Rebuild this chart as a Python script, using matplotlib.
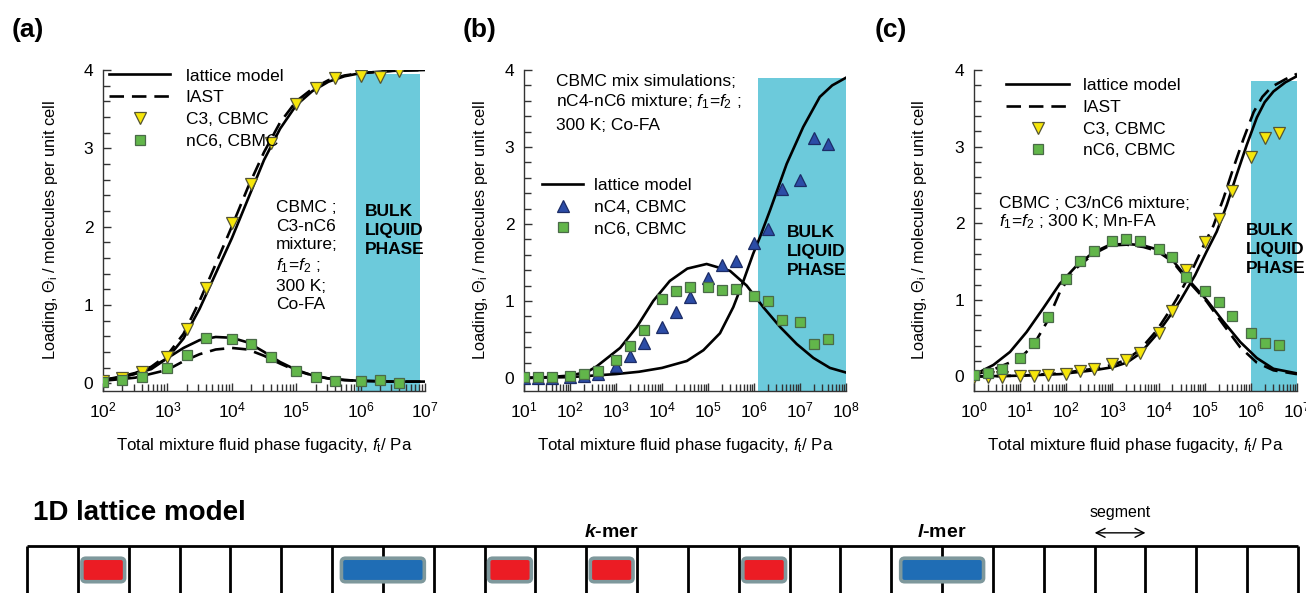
import matplotlib
matplotlib.use("Agg")
import matplotlib.pyplot as plt
import numpy as np
from matplotlib.patches import FancyBboxPatch
from matplotlib.ticker import LogLocator, LogFormatterMathtext, MultipleLocator, NullFormatter

plt.rcParams["font.family"] = ["Liberation Sans", "DejaVu Sans"]
plt.rcParams["mathtext.fontset"] = "custom"
plt.rcParams["mathtext.rm"] = "Liberation Sans"
plt.rcParams["mathtext.it"] = "Liberation Sans:italic"
plt.rcParams["mathtext.bf"] = "Liberation Sans:bold"
plt.rcParams["mathtext.bfit"] = "Liberation Sans:italic:bold"

W, H = 1306, 593

# ---- (a) C3/nC6 in Co-FA ----
a_f_cbmc = [1e2, 2e2, 4e2, 1e3, 2e3, 4e3, 1e4, 2e4, 4e4, 1e5, 2e5, 4e5, 1e6, 2e6, 4e6]
a_c3_cbmc = [0.03, 0.06, 0.14, 0.33, 0.69, 1.22, 2.04, 2.54, 3.07, 3.56, 3.77, 3.90, 3.92, 3.91, 3.99]
a_nc6_cbmc = [0.02, 0.04, 0.08, 0.20, 0.36, 0.58, 0.57, 0.50, 0.33, 0.16, 0.08, 0.03, 0.03, 0.04, 0.00]

a_logf = [2.0, 2.25, 2.5, 2.75, 3.0, 3.25, 3.5, 3.75, 4.0, 4.25, 4.5, 4.75, 5.0, 5.25, 5.5, 5.75, 6.0, 6.5, 7.0]
a_c3_lattice = [0.04, 0.07, 0.12, 0.18, 0.32, 0.57, 0.95, 1.40, 1.85, 2.35, 2.85, 3.25, 3.55, 3.73, 3.85, 3.92, 3.96, 3.99, 4.00]
a_c3_iast = [0.04, 0.08, 0.13, 0.21, 0.36, 0.63, 1.05, 1.52, 2.00, 2.50, 2.95, 3.33, 3.60, 3.76, 3.87, 3.93, 3.96, 3.99, 4.00]
a_nc6_lattice = [0.04, 0.07, 0.12, 0.20, 0.32, 0.45, 0.55, 0.59, 0.58, 0.52, 0.40, 0.27, 0.17, 0.10, 0.06, 0.04, 0.03, 0.02, 0.02]
a_nc6_iast = [0.03, 0.05, 0.07, 0.12, 0.17, 0.28, 0.37, 0.43, 0.45, 0.43, 0.35, 0.25, 0.16, 0.10, 0.06, 0.04, 0.03, 0.02, 0.02]
a_liquid = [8.5e5, 8.5e6, 3.95]

# ---- (b) nC4/nC6 in Co-FA ----
b_f_cbmc = [1e1, 2e1, 4e1, 1e2, 2e2, 4e2, 1e3, 2e3, 4e3, 1e4, 2e4, 4e4, 1e5, 2e5, 4e5,
            1e6, 2e6, 4e6, 1e7, 2e7, 4e7]
b_nc4_cbmc = [0.0, 0.0, 0.0, 0.01, 0.02, 0.05, 0.16, 0.29, 0.46, 0.66, 0.85, 1.05, 1.30, 1.47, 1.52,
              1.75, 1.94, 2.45, 2.57, 3.12, 3.04]
b_nc6_cbmc = [0.01, 0.01, 0.01, 0.03, 0.05, 0.09, 0.23, 0.41, 0.62, 1.03, 1.13, 1.18, 1.18, 1.14, 1.16,
              1.07, 1.00, 0.75, 0.72, 0.44, 0.50]

b_logf_nc4 = [1.0, 2.0, 2.5, 3.0, 3.5, 4.0, 4.54, 4.9, 5.26, 5.55, 5.77, 5.98, 6.13, 6.35, 6.71, 7.07, 7.43, 7.7, 8.0]
b_nc4_lattice = [0.0, 0.01, 0.03, 0.05, 0.08, 0.13, 0.22, 0.36, 0.58, 0.92, 1.26, 1.61, 1.83, 2.18, 2.78, 3.26, 3.65, 3.80, 3.90]
b_logf_nc6 = [1.0, 1.5, 2.0, 2.38, 2.58, 3.09, 3.45, 3.81, 4.17, 4.55, 4.97, 5.48, 5.84, 6.2, 6.57, 6.93, 7.29, 7.65, 8.0]
b_nc6_lattice = [0.0, 0.01, 0.03, 0.08, 0.15, 0.39, 0.66, 1.00, 1.26, 1.42, 1.48, 1.39, 1.20, 0.92, 0.66, 0.44, 0.26, 0.13, 0.07]
b_liquid = [1.2e6, 1e8, 3.90]

# ---- (c) C3/nC6 in Mn-FA ----
c_f_cbmc = [1, 2, 4, 1e1, 2e1, 4e1, 1e2, 2e2, 4e2, 1e3, 2e3, 4e3, 1e4, 2e4, 4e4, 1e5, 2e5, 4e5,
            1e6, 2e6, 4e6]
c_c3_cbmc = [-0.01, -0.01, -0.01, 0.0, 0.0, 0.02, 0.03, 0.07, 0.10, 0.16, 0.21, 0.30, 0.57, 0.86, 1.39,
             1.75, 2.06, 2.42, 2.86, 3.11, 3.18]
c_nc6_cbmc = [0.02, 0.05, 0.10, 0.24, 0.44, 0.78, 1.27, 1.51, 1.64, 1.77, 1.79, 1.77, 1.66, 1.56, 1.30,
              1.12, 0.97, 0.79, 0.57, 0.44, 0.41]

c_logf_c3_lattice = [0.0, 1.0, 1.86, 2.59, 3.0, 3.31, 3.6, 3.96, 4.2, 4.46, 4.79, 5.04, 5.26, 5.48, 5.69,
                     5.91, 6.13, 6.3, 6.49, 6.75, 7.0]
c_c3_lattice = [0.0, 0.01, 0.03, 0.08, 0.12, 0.18, 0.30, 0.55, 0.75, 0.98, 1.32, 1.63, 1.89, 2.24, 2.63,
                3.02, 3.38, 3.58, 3.72, 3.84, 3.92]
c_logf_c3_iast = [0.0, 1.0, 1.86, 2.59, 3.0, 3.31, 3.6, 3.96, 4.2, 4.4, 4.72, 4.97, 5.19, 5.41, 5.62,
                  5.84, 6.06, 6.25, 6.45, 6.75, 7.0]
c_c3_iast = [0.0, 0.01, 0.04, 0.10, 0.15, 0.22, 0.35, 0.60, 0.82, 1.02, 1.38, 1.70, 1.97, 2.33, 2.72,
             3.10, 3.45, 3.65, 3.78, 3.88, 3.95]
c_logf_nc6_lattice = [0.0, 0.42, 0.78, 1.14, 1.5, 1.86, 2.23, 2.59, 2.95, 3.31, 3.67, 3.96, 4.3, 4.68,
                      5.04, 5.4, 5.77, 6.13, 6.49, 7.0]
c_nc6_lattice = [0.02, 0.15, 0.32, 0.58, 0.89, 1.21, 1.45, 1.62, 1.72, 1.73, 1.71, 1.66, 1.52, 1.24,
                 1.00, 0.72, 0.45, 0.24, 0.10, 0.04]
c_logf_nc6_iast = [0.0, 0.42, 1.0, 1.29, 1.58, 1.86, 2.15, 2.59, 2.95, 3.31, 3.67, 3.96, 4.3, 4.68,
                   5.04, 5.4, 5.77, 6.13, 6.49, 7.0]
c_nc6_iast = [0.02, 0.09, 0.24, 0.41, 0.71, 1.10, 1.38, 1.60, 1.71, 1.72, 1.69, 1.64, 1.50, 1.22,
              0.98, 0.68, 0.38, 0.18, 0.08, 0.03]
c_liquid = [1e6, 1e7, 3.85]

# ---- 1D lattice schematic ----
n_cells = 25
k_mer_cells = [1, 9, 11, 14]
l_mer_cells = [6, 17]
labelled_k_mer = 11
labelled_l_mer = 17
segment_cell = 21

CYAN = "#6ccadb"
YELLOW = "#f6e60a"
GREEN = "#62b64a"
BLUE = "#2c4ca6"
LW = 1.9
DASH = (5.5, 3.0)
FS = 12.5

fig = plt.figure(figsize=(W / 100, H / 100), dpi=100)


def px_text(x, y, s, **kw):
    fig.text(x / W, 1 - y / H, s, **kw)


def make_axes(left, right, ymin, xlim):
    ax = fig.add_axes([left / W, 1 - 391 / H, (right - left) / W, (391 - 70) / H])
    ax.set_xscale("log")
    ax.set_xlim(*xlim)
    ax.set_ylim(ymin, 4.0)
    for s in ("top", "right"):
        ax.spines[s].set_visible(False)
    for s in ("left", "bottom"):
        ax.spines[s].set_color("#333333")
        ax.spines[s].set_linewidth(1.0)
    ax.xaxis.set_major_locator(LogLocator(base=10, numticks=20))
    ax.xaxis.set_minor_locator(LogLocator(base=10, subs=np.arange(2, 10), numticks=20))
    ax.xaxis.set_major_formatter(LogFormatterMathtext())
    ax.xaxis.set_minor_formatter(NullFormatter())
    ax.yaxis.set_major_locator(MultipleLocator(1))
    ax.yaxis.set_minor_locator(MultipleLocator(0.2))
    ax.tick_params(which="both", direction="in", color="#333333", width=1.0, labelsize=FS)
    ax.tick_params(which="major", length=6, pad=7)
    ax.tick_params(which="minor", length=5)
    ax.set_xlabel(r"Total mixture fluid phase fugacity, $f_{\mathrm{t}}$/ Pa", fontsize=12.2)
    ax.xaxis.set_label_coords(0.5, -0.14)
    ax.set_ylabel(r"Loading, $\Theta_{\mathrm{i}}$ / molecules per unit cell", fontsize=11.8)
    return ax


def liquid_band(ax, band):
    ax.fill_between([band[0], band[1]], ax.get_ylim()[0], band[2], color=CYAN, lw=0, zorder=0)


def cbmc(ax, f, theta, kind, label):
    styles = {
        "c3": dict(marker="v", ms=8.5, mfc=YELLOW, mec="#555533"),
        "nc4": dict(marker="^", ms=8.5, mfc=BLUE, mec="#1c2c66"),
        "nc6": dict(marker="s", ms=7.5, mfc=GREEN, mec="#4a6a48"),
    }
    return ax.plot(f, theta, ls="none", mew=0.9, label=label, zorder=4, **styles[kind])[0]


def legend(ax, handles, anchor, hl, htp):
    ax.legend(handles=handles, loc="upper left", bbox_to_anchor=anchor, frameon=False,
              fontsize=FS, handlelength=hl, handletextpad=htp, labelspacing=0.38,
              borderpad=0, borderaxespad=0)


# (a)
ax_a = make_axes(103, 425, -0.1, (1e2, 1e7))
ax_a.yaxis.set_label_coords(-0.135, 0.5)
liquid_band(ax_a, a_liquid)
fa = 10 ** np.array(a_logf)
la, = ax_a.plot(fa, a_c3_lattice, color="black", lw=LW, label="lattice model", zorder=2)
ia, = ax_a.plot(fa, a_c3_iast, color="black", lw=LW, dashes=DASH, label="IAST", zorder=2)
ax_a.plot(fa, a_nc6_lattice, color="black", lw=LW, zorder=2)
ax_a.plot(fa, a_nc6_iast, color="black", lw=LW, dashes=DASH, zorder=2)
c3a = cbmc(ax_a, a_f_cbmc, a_c3_cbmc, "c3", "C3, CBMC")
n6a = cbmc(ax_a, a_f_cbmc, a_nc6_cbmc, "nc6", "nC6, CBMC")
legend(ax_a, [la, ia, c3a, n6a], (0.02, 1.005), 3.5, 0.9)

# (b)
ax_b = make_axes(524, 846, -0.17, (1e1, 1e8))
ax_b.yaxis.set_label_coords(-0.105, 0.5)
liquid_band(ax_b, b_liquid)
lb, = ax_b.plot(10 ** np.array(b_logf_nc4), b_nc4_lattice, color="black", lw=LW,
                label="lattice model", zorder=2)
ax_b.plot(10 ** np.array(b_logf_nc6), b_nc6_lattice, color="black", lw=LW, zorder=2)
n4b = cbmc(ax_b, b_f_cbmc, b_nc4_cbmc, "nc4", "nC4, CBMC")
n6b = cbmc(ax_b, b_f_cbmc, b_nc6_cbmc, "nc6", "nC6, CBMC")
legend(ax_b, [lb, n4b, n6b], (0.055, 0.664), 2.4, 0.6)

# (c)
ax_c = make_axes(974, 1297, -0.19, (1e0, 1e7))
ax_c.yaxis.set_label_coords(-0.14, 0.5)
liquid_band(ax_c, c_liquid)
lc, = ax_c.plot(10 ** np.array(c_logf_c3_lattice), c_c3_lattice, color="black", lw=LW,
                label="lattice model", zorder=2)
ic, = ax_c.plot(10 ** np.array(c_logf_c3_iast), c_c3_iast, color="black", lw=LW, dashes=DASH,
                label="IAST", zorder=2)
ax_c.plot(10 ** np.array(c_logf_nc6_lattice), c_nc6_lattice, color="black", lw=LW, zorder=2)
ax_c.plot(10 ** np.array(c_logf_nc6_iast), c_nc6_iast, color="black", lw=LW, dashes=DASH, zorder=2)
c3c = cbmc(ax_c, c_f_cbmc, c_c3_cbmc, "c3", "C3, CBMC")
n6c = cbmc(ax_c, c_f_cbmc, c_nc6_cbmc, "nc6", "nC6, CBMC")
legend(ax_c, [lc, ic, c3c, n6c], (0.10, 0.975), 3.6, 0.8)

# panel letters and notes
for x, s in [(12, "(a)"), (463, "(b)"), (875, "(c)")]:
    px_text(x, 30, s, fontsize=19, fontweight="bold", va="center", ha="left")

px_text(276, 200, "CBMC ;\nC3-nC6\nmixture;\n$f_1$=$f_2$ ;\n300 K;\nCo-FA",
        fontsize=FS, va="top", ha="left", linespacing=1.3)
px_text(556, 82, "CBMC mix simulations;", fontsize=FS, va="center", ha="left")
px_text(556, 102, "nC4-nC6 mixture; $f_1$=$f_2$ ;", fontsize=FS, va="center", ha="left")
px_text(556, 125, "300 K; Co-FA", fontsize=FS, va="center", ha="left")
px_text(999, 203, "CBMC ; C3/nC6 mixture;", fontsize=FS, va="center", ha="left")
px_text(999, 222, "$f_1$=$f_2$ ; 300 K; Mn-FA", fontsize=FS, va="center", ha="left")

for x, y in [(365, 204), (787, 225), (1246, 223)]:
    px_text(x, y, "BULK\nLIQUID\nPHASE", fontsize=FS, fontweight="bold", va="top", ha="left",
            linespacing=1.33)

# 1D lattice model sketch along the bottom
px_text(33, 513, "1D lattice model", fontsize=20, fontweight="bold", va="center", ha="left")
ax_l = fig.add_axes([27 / W, 0, (1298 - 27) / W, 47 / H])
ax_l.set_xlim(0, n_cells)
ax_l.set_ylim(0, 1)
ax_l.axis("off")
ax_l.vlines(np.arange(n_cells + 1), 0, 1, color="black", lw=2.0, clip_on=False)
ax_l.hlines(1, 0, n_cells, color="black", lw=2.0, clip_on=False)
for i in k_mer_cells:
    ax_l.add_patch(FancyBboxPatch((i + 0.08, 0.24), 0.84, 0.5,
                                  boxstyle="round,pad=0,rounding_size=0.08",
                                  fc="#ec1c24", ec="#7e989c", lw=2.6, zorder=3))
for i in l_mer_cells:
    ax_l.add_patch(FancyBboxPatch((i + 0.185, 0.24), 1.63, 0.5,
                                  boxstyle="round,pad=0,rounding_size=0.08",
                                  fc="#1f6db5", ec="#7e989c", lw=2.6, zorder=3))
ax_l.text(labelled_k_mer + 0.5, 1.28, r"$\mathbfit{k}$-mer", fontsize=14, fontweight="bold",
          ha="center", va="center")
ax_l.text(labelled_l_mer + 1.0, 1.28, r"$\mathbfit{l}$-mer", fontsize=14, fontweight="bold",
          ha="center", va="center")
ax_l.text(segment_cell + 0.5, 1.72, "segment", fontsize=11.5, ha="center", va="center")
ax_l.annotate("", xy=(segment_cell + 1, 1.28), xytext=(segment_cell, 1.28),
              arrowprops=dict(arrowstyle="<->", lw=1.0, color="black", shrinkA=0, shrinkB=0,
                              mutation_scale=16),
              annotation_clip=False)

fig.savefig("out.png", dpi=100)
